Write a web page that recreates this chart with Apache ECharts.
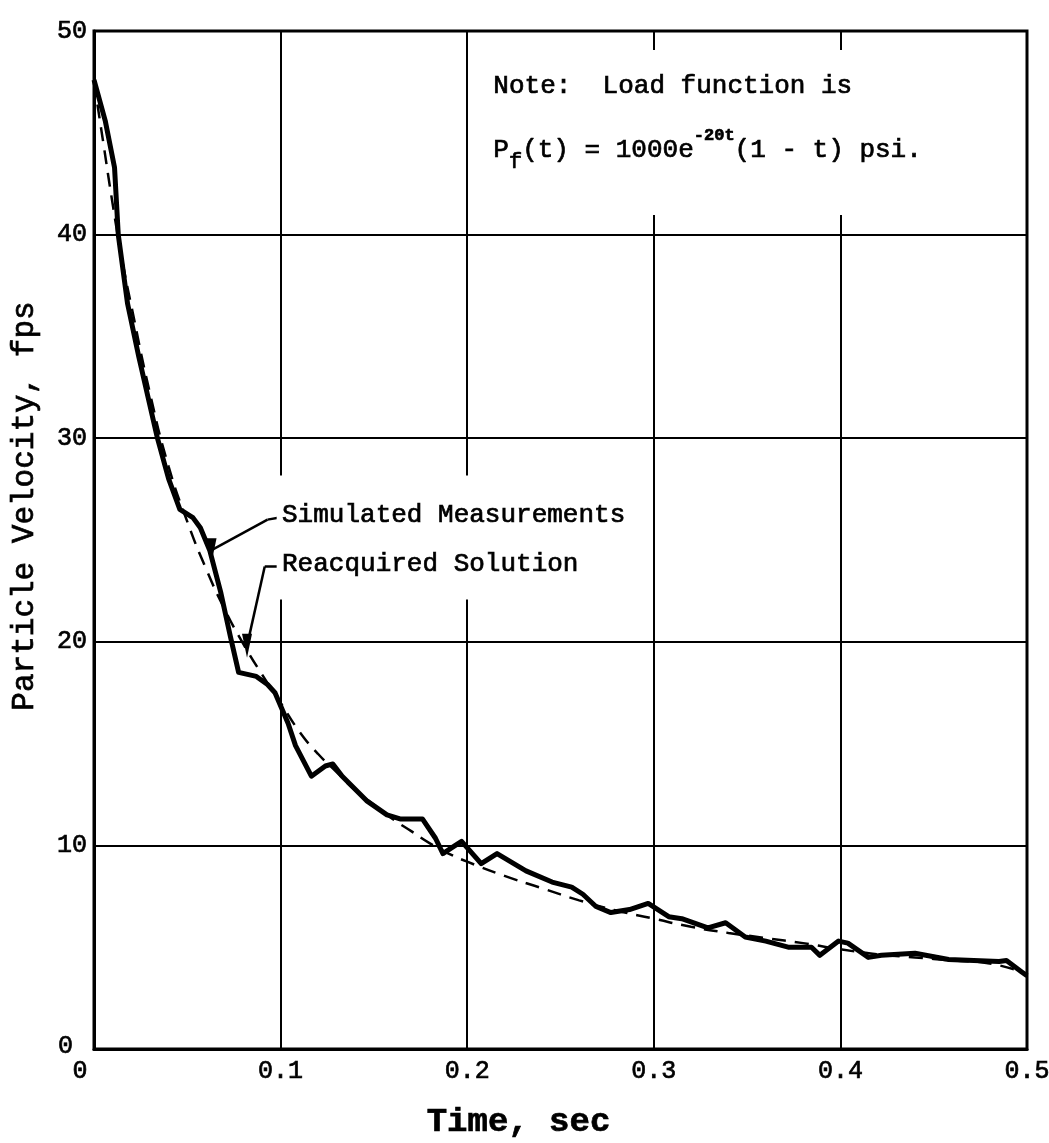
<!DOCTYPE html>
<html>
<head>
<meta charset="utf-8">
<title>Particle Velocity vs Time</title>
<script src="https://cdn.jsdelivr.net/npm/echarts@6/dist/echarts.min.js"></script>
<style>
  html, body { margin: 0; padding: 0; background: #ffffff; }
  #chart { width: 1049px; height: 1143px; }
</style>
</head>
<body>
<div id="chart"></div>
<script>
// Simulated measurements (solid trace): time in sec, velocity in fps
const simTime = [0.000, 0.006, 0.011, 0.013, 0.018, 0.024, 0.034, 0.040, 0.046, 0.053,
  0.057, 0.062, 0.068, 0.073, 0.0775, 0.087, 0.093, 0.097, 0.104, 0.108,
  0.1165, 0.124, 0.128, 0.133, 0.146, 0.157, 0.164, 0.176, 0.183, 0.187,
  0.192, 0.197, 0.2075, 0.216, 0.2315, 0.2455, 0.256, 0.262, 0.269, 0.277,
  0.287, 0.297, 0.308, 0.315, 0.329, 0.3385, 0.349, 0.360, 0.372, 0.3845,
  0.389, 0.399, 0.404, 0.415, 0.422, 0.440, 0.458, 0.485, 0.489, 0.497, 0.500];
const simVel = [47.6, 45.6, 43.3, 40.0, 36.6, 34.0, 30.0, 28.0, 26.5, 26.1,
  25.6, 24.5, 22.4, 20.3, 18.5, 18.3, 17.9, 17.5, 16.0, 14.9,
  13.4, 13.9, 14.0, 13.4, 12.2, 11.5, 11.3, 11.3, 10.35, 9.6,
  9.9, 10.2, 9.1, 9.6, 8.75, 8.2, 7.95, 7.6, 7.0, 6.7,
  6.85, 7.15, 6.5, 6.4, 5.95, 6.2, 5.5, 5.3, 5.0, 5.0,
  4.6, 5.3, 5.2, 4.5, 4.6, 4.7, 4.4, 4.3, 4.35, 3.8, 3.6];

// Reacquired solution (dashed trace)
const fitTime = [0.000, 0.005, 0.010, 0.015, 0.020, 0.030, 0.040, 0.050, 0.060, 0.070,
  0.080, 0.090, 0.100, 0.110, 0.120, 0.130, 0.140, 0.150, 0.160, 0.170,
  0.180, 0.190, 0.200, 0.220, 0.240, 0.260, 0.280, 0.300, 0.320, 0.340,
  0.360, 0.380, 0.400, 0.420, 0.440, 0.460, 0.480, 0.500];
const fitVel = [47.5, 44.5, 41.5, 38.8, 36.5, 32.2, 28.6, 25.9, 23.6, 21.6,
  19.9, 18.4, 17.0, 15.6, 14.5, 13.6, 12.7, 12.0, 11.3, 10.7,
  10.1, 9.6, 9.2, 8.5, 7.9, 7.3, 6.8, 6.4, 6.0, 5.7,
  5.45, 5.2, 4.9, 4.65, 4.5, 4.35, 4.2, 3.7];

// Axis ticks
const timeTicks = [0, 0.1, 0.2, 0.3, 0.4, 0.5];
const velTicks = [0, 10, 20, 30, 40, 50];

// Leader arrows: [text end, bend, arrow tip] in (time, velocity)
const simLeader = [[0.0995, 26.1], [0.093, 26.0], [0.063, 24.5]];
const fitLeader = [[0.0995, 23.7], [0.0915, 23.7], [0.082, 19.8]];
const simLabel = 'Simulated Measurements';
const fitLabel = 'Reacquired Solution';

const FONT = '"Liberation Mono", "DejaVu Sans Mono", monospace';
// light outline gives the typewriter strokes a little more weight
const INK = { color: '#000', textBorderColor: '#000', textBorderWidth: 0.7 };

function pairs(xs, ys) { return xs.map((x, i) => [x, ys[i]]); }

function leaderMarkLine(pts) {
  return [
    [{ coord: pts[0], symbol: 'none' }, { coord: pts[1], symbol: 'none' }],
    [{ coord: pts[1], symbol: 'none' }, { coord: pts[2], symbol: 'triangle', symbolSize: [10, 24], symbolRotate: 180 }]
  ];
}

const chart = echarts.init(document.getElementById('chart'), null, { renderer: 'canvas' });

const option = {
  backgroundColor: '#ffffff',
  animation: false,
  grid: {
    left: 94, right: 22, top: 31, bottom: 94,
    containLabel: false, outerBoundsMode: 'none',
    show: true, borderColor: '#000', borderWidth: 3, backgroundColor: 'transparent'
  },
  xAxis: {
    type: 'value', min: timeTicks[0], max: timeTicks[timeTicks.length - 1], interval: 0.1,
    name: 'Time, sec', nameLocation: 'middle', nameGap: 56,
    nameTextStyle: { fontFamily: FONT, fontSize: 34, fontWeight: 'bold', ...INK, padding: [0, 84, 0, 0] },
    axisLine: { show: true, lineStyle: { color: '#000', width: 3 } },
    axisTick: { show: false },
    splitLine: { show: true, lineStyle: { color: '#000', width: 2 } },
    axisLabel: {
      margin: 10, fontFamily: FONT, fontSize: 25, ...INK,
      formatter: v => v === 0 ? '{z|0}' : v.toFixed(1),
      rich: { z: { fontFamily: FONT, fontSize: 25, ...INK, padding: [0, 28, 0, 0] } }
    }
  },
  yAxis: {
    type: 'value', min: velTicks[0], max: velTicks[velTicks.length - 1], interval: 10,
    name: 'Particle Velocity, fps', nameLocation: 'middle', nameGap: 54, nameRotate: 90,
    nameTextStyle: { fontFamily: FONT, fontSize: 31, ...INK, padding: [0, 0, 0, 68] },
    axisLine: { show: true, lineStyle: { color: '#000', width: 3 } },
    axisTick: { show: false },
    splitLine: { show: true, lineStyle: { color: '#000', width: 2 } },
    axisLabel: {
      margin: 7, fontFamily: FONT, fontSize: 25, ...INK,
      formatter: v => v === 0 ? '{z|0}' : String(v),
      rich: { z: { fontFamily: FONT, fontSize: 25, ...INK, padding: [0, 14, 6, 0] } }
    }
  },
  series: [
    {
      name: fitLabel, type: 'line', data: pairs(fitTime, fitVel), showSymbol: false, smooth: true,
      lineStyle: { color: '#000', width: 2.5, type: [14, 9] }, z: 3,
      markLine: {
        silent: true, animation: false, label: { show: false },
        lineStyle: { color: '#000', width: 2.5, type: 'solid' },
        data: leaderMarkLine(fitLeader)
      }
    },
    {
      name: simLabel, type: 'line', data: pairs(simTime, simVel), showSymbol: false,
      lineStyle: { color: '#000', width: 5, join: 'round' }, z: 4,
      markLine: {
        silent: true, animation: false, label: { show: false },
        lineStyle: { color: '#000', width: 2.5, type: 'solid' },
        data: leaderMarkLine(simLeader)
      }
    }
  ]
};

chart.setOption(option);

// Leader labels anchored at the start of each leader line
const simPx = chart.convertToPixel({ gridIndex: 0 }, simLeader[0]);
const fitPx = chart.convertToPixel({ gridIndex: 0 }, fitLeader[0]);

const txt = (size) => ({ font: size + 'px ' + FONT, fill: '#000', stroke: '#000', lineWidth: 0.7 });
const paper = { fill: '#ffffff' };

chart.setOption({
  graphic: [
    // blank paper behind the lettering so the grid does not run through it
    { type: 'rect', shape: { x: 480, y: 50, width: 520, height: 165 }, style: paper, z: 5 },
    { type: 'rect', shape: { x: simPx[0] - 3, y: simPx[1] - 42, width: 352, height: 124 }, style: paper, z: 5 },
    { type: 'text', left: simPx[0] + 2, top: simPx[1] - 16,
      style: { text: simLabel, ...txt(26) }, z: 10 },
    { type: 'text', left: fitPx[0] + 2, top: fitPx[1] - 16,
      style: { text: fitLabel, ...txt(26) }, z: 10 },
    { type: 'text', left: 493, top: 73,
      style: { text: 'Note:  Load function is', ...txt(26) }, z: 10 },
    { type: 'text', left: 493, top: 127,
      style: {
        text: '{b|P}{s|f}{b|(t) = 1000e}{p|-20t}{b|(1 - t) psi.}',
        fill: '#000', stroke: '#000', lineWidth: 0.7,
        rich: {
          b: { fontFamily: FONT, fontSize: 26, lineHeight: 46, verticalAlign: 'middle' },
          s: { fontFamily: FONT, fontSize: 22, lineHeight: 16, verticalAlign: 'bottom' },
          p: { fontFamily: FONT, fontSize: 17, fontWeight: 'bold', lineHeight: 17, verticalAlign: 'top' }
        }
      }, z: 10 }
  ]
});
</script>
</body>
</html>
